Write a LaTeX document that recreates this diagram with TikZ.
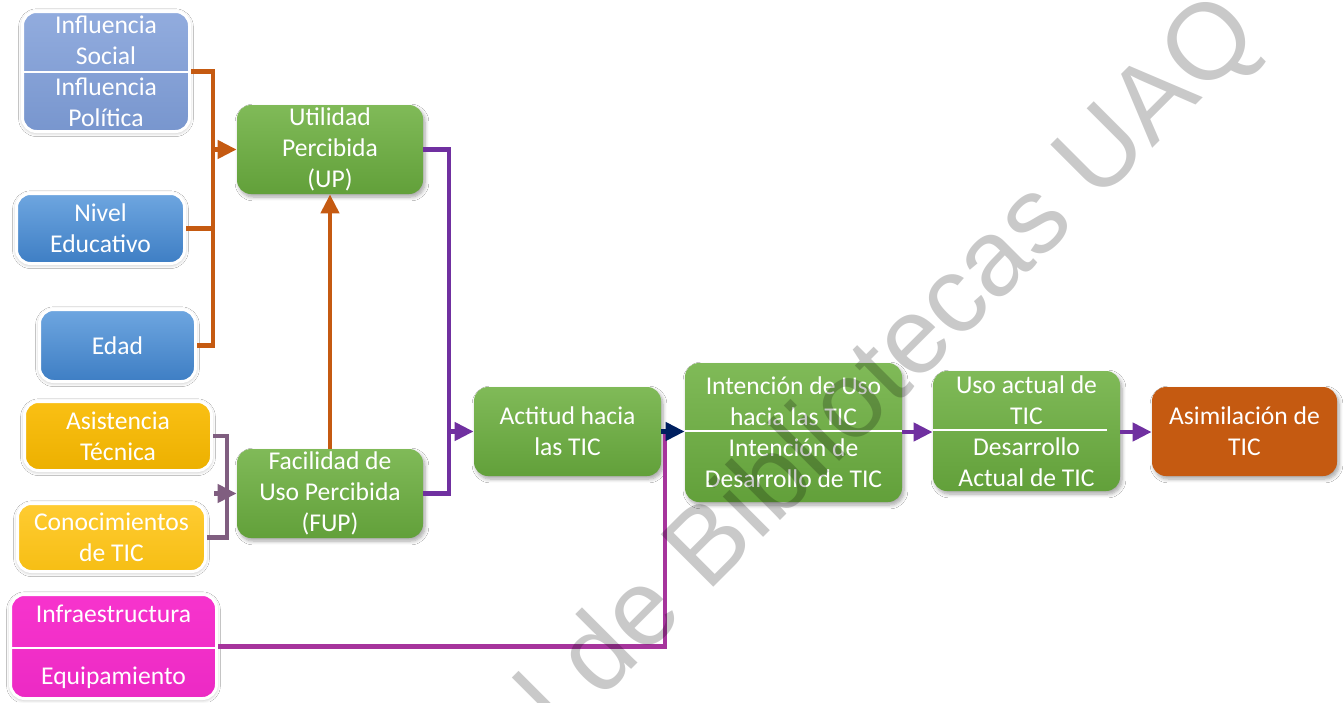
\documentclass[tikz,border=0pt]{standalone}
\usepackage{fontspec}
\setmainfont{Carlito}
\newfontfamily\wmfont{Liberation Sans}
\usetikzlibrary{arrows.meta,shadows.blur}

\definecolor{gTop}{RGB}{128,186,88}
\definecolor{gBot}{RGB}{98,160,58}
\definecolor{lbTop}{RGB}{146,172,222}
\definecolor{lbBot}{RGB}{120,150,206}
\definecolor{bTop}{RGB}{110,166,224}
\definecolor{bBot}{RGB}{62,126,196}
\definecolor{yTop}{RGB}{250,192,20}
\definecolor{yBot}{RGB}{236,176,0}
\definecolor{y2Top}{RGB}{255,204,50}
\definecolor{y2Bot}{RGB}{246,190,20}
\definecolor{mTop}{RGB}{247,52,205}
\definecolor{mBot}{RGB}{236,42,196}
\definecolor{oFill}{RGB}{197,90,17}
\definecolor{cOrange}{RGB}{197,90,17}
\definecolor{cPurple}{RGB}{112,48,160}
\definecolor{cMauve}{RGB}{128,94,128}
\definecolor{cNavy}{RGB}{0,32,96}
\definecolor{cMagenta}{RGB}{166,52,156}

\newcommand{\boxfont}{\fontsize{12.8pt}{15.5pt}\selectfont}

\tikzset{
  box/.style={rounded corners=7pt, text=white, align=center, inner sep=0pt,
    font=\boxfont},
  greenbox/.style={box, top color=gTop, bottom color=gBot,
    blur shadow={shadow xshift=1pt, shadow yshift=-1.5pt, shadow opacity=35,
      shadow blur steps=6}},
  framed/.style={box, draw=white, line width=1.5pt,
    blur shadow={shadow xshift=0pt, shadow yshift=-0.6pt, shadow opacity=30,
      shadow blur steps=5, shadow blur extra rounding=1pt}},
  divider/.style={draw=white, line width=0.7pt},
  link/.style={line width=2.2pt},
  tip/.style={-{Triangle[length=9.5pt,width=9pt]}},
  wm/.style={font=\wmfont\fontsize{54pt}{54pt}\selectfont, text=black,
    text opacity=0.21, inner sep=0pt, rotate=45}
}

\begin{document}
\begin{tikzpicture}[x=0.5pt,y=-0.5pt]
\useasboundingbox (0,0) rectangle (1344,702);
\fill[white] (0,0) rectangle (1344,702);

% input factors on the left
\node[framed, top color=lbTop, bottom color=lbBot, minimum width=83.5pt, minimum height=60pt]
  (inf) at (106,71.5) {Influencia\\Social\\Influencia\\Política};
\node[framed, top color=bTop, bottom color=bBot, minimum width=84pt, minimum height=35pt]
  (niv) at (100.5,228.5) {Nivel\\Educativo};
\node[framed, top color=bTop, bottom color=bBot, minimum width=78pt, minimum height=36pt]
  (edad) at (117.5,345.5) {Edad};
\node[framed, top color=yTop, bottom color=yBot, minimum width=93.5pt, minimum height=34.5pt]
  (asis) at (118,436) {Asistencia\\Técnica};
\node[framed, top color=y2Top, bottom color=y2Bot, minimum width=94pt, minimum height=34pt]
  (conoc) at (111.5,537.5) {Conocimientos\\de TIC};
\node[framed, top color=mTop, bottom color=mBot, minimum width=103pt, minimum height=52pt]
  (infra) at (113.5,646.5) {Infraestructura\\\mbox{}\\Equipamiento};

% model constructs
\node[greenbox, minimum width=93pt, minimum height=44.5pt]
  (up) at (330,149.5) {Utilidad\\Percibida\\(UP)};
\node[greenbox, minimum width=93pt, minimum height=44.5pt]
  (fup) at (330,493.5) {Facilidad de\\Uso Percibida\\(FUP)};
\node[greenbox, minimum width=93.5pt, minimum height=44.5pt]
  (act) at (567.5,431.5) {Actitud hacia\\las TIC};
\node[greenbox, minimum width=108.5pt, minimum height=69.5pt]
  (int) at (793.5,432.5) {Intención de Uso\\hacia las TIC\\Intención de\\Desarrollo de TIC};
\node[greenbox, minimum width=93.5pt, minimum height=60pt]
  (uso) at (1026.5,431) {Uso actual de\\TIC\\Desarrollo\\Actual de TIC};
\node[box, fill=oFill, minimum width=92.5pt, minimum height=44.5pt,
  blur shadow={shadow xshift=1pt, shadow yshift=-1.5pt, shadow opacity=35, shadow blur steps=6}]
  (asim) at (1244.5,431.5) {Asimilación de\\TIC};

% dividers inside the paired boxes
\draw[divider] (inf.west |- 0,72) -- (inf.east |- 0,72);
\draw[divider] (infra.west |- 0,648) -- (infra.east |- 0,648);
\draw[divider] (int.west |- 0,431) -- (int.east |- 0,431);
\draw[divider] (uso.west |- 0,430) -- (1107,430);

% junction points
\coordinate (jU) at (213,149.5);
\coordinate (jF) at (227,493.5);
\coordinate (aF) at (214,493.5);
\coordinate (jA) at (449,431.5);
\coordinate (jM) at (665,432);

% orange links into UP
\draw[link, cOrange] (inf.east) -| (jU);
\draw[link, cOrange] (niv.east) -| (jU);
\draw[link, cOrange] (edad.east) -| (jU);
\draw[link, cOrange, tip] (jU) -- (up.west);
\draw[link, cOrange, tip] (fup.north) -- (up.south);

% links into FUP
\draw[link, cMauve] (asis.east) -| (jF);
\draw[link, cMauve] (conoc.east) -| (jF);
\draw[link, cMauve, tip] (aF) -- (fup.west);

% purple links into the attitude box
\draw[link, cPurple] (up.east) -| (jA);
\draw[link, cPurple] (fup.east) -| (jA);
\draw[link, cPurple, tip] (jA) -- (act.west);

% infrastructure link
\draw[link, cMagenta] (infra.east) -| (jM);

% main chain
\draw[link, cNavy, tip] (act.east) -- (act.east -| int.west);
\draw[link, cPurple, tip] (int.east |- 0,432) -- (uso.west |- 0,432);
\draw[link, cPurple, tip] (uso.east |- 0,432) -- (asim.west |- 0,432);

% watermark
\begin{scope}
\clip (0,0) rectangle (1344,702);
\node[wm, anchor=base west] (wmB) at (707,594) {Bibliotecas UAQ};
\node[wm, anchor=base east] (wmA) at (686,615) {Dirección General de};
\end{scope}
\end{tikzpicture}
\end{document}
